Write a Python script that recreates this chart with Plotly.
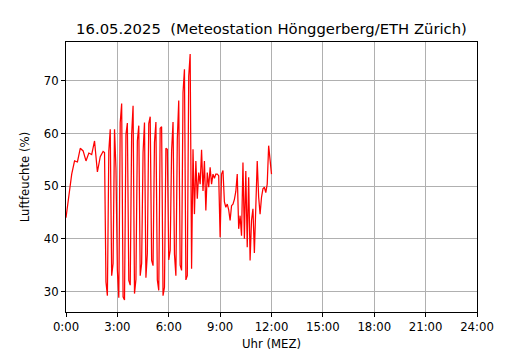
import plotly.graph_objects as go

# Measurement times (MEZ): 10-minute steps until 2:10, 5-minute steps afterwards
times = ["0:00", "0:10", "0:20", "0:30", "0:40", "0:50",
         "1:00", "1:10", "1:20", "1:30", "1:40", "1:50",
         "2:00", "2:10",
         "2:15", "2:20", "2:25", "2:30", "2:35", "2:40", "2:45", "2:50", "2:55",
         "3:00", "3:05", "3:10", "3:15", "3:20", "3:25", "3:30", "3:35", "3:40", "3:45", "3:50", "3:55",
         "4:00", "4:05", "4:10", "4:15", "4:20", "4:25", "4:30", "4:35", "4:40", "4:45", "4:50", "4:55",
         "5:00", "5:05", "5:10", "5:15", "5:20", "5:25", "5:30", "5:35", "5:40", "5:45", "5:50", "5:55",
         "6:00", "6:05", "6:10", "6:15", "6:20", "6:25", "6:30", "6:35", "6:40", "6:45", "6:50", "6:55",
         "7:00", "7:05", "7:10", "7:15", "7:20", "7:25", "7:30", "7:35", "7:40", "7:45", "7:50", "7:55",
         "8:00", "8:05", "8:10", "8:15", "8:20", "8:25", "8:30", "8:35", "8:40", "8:45", "8:50", "8:55",
         "9:00", "9:05", "9:10", "9:15", "9:20", "9:25", "9:30", "9:35", "9:40", "9:45", "9:50", "9:55",
         "10:00", "10:05", "10:10", "10:15", "10:20", "10:25", "10:30", "10:35", "10:40", "10:45", "10:50", "10:55",
         "11:00", "11:05", "11:10", "11:15", "11:20", "11:25", "11:30", "11:35", "11:40", "11:45", "11:50", "11:55",
         "12:00"]

# Relative humidity (%)
humidity = [44.0, 48.0, 52.3, 54.8, 54.6, 57.2,
            56.7, 54.8, 56.3, 56.0, 58.6, 52.7,
            55.6, 56.6,
            56.4, 31.8, 29.2, 56.7, 60.8, 33.0, 35.3, 60.8, 53.4,
            34.0, 28.8, 62.1, 65.7, 29.0, 28.4, 59.8, 62.0, 32.1, 31.2, 59.8, 65.3,
            29.6, 32.3, 58.6, 61.5, 33.0, 35.3, 56.4, 62.1, 32.6, 37.2, 61.9, 63.2,
            35.9, 34.9, 58.3, 62.2, 32.2, 30.2, 61.0, 61.3, 29.2, 30.8, 57.2, 57.0,
            36.0, 37.8, 56.7, 62.2, 37.1, 33.0, 58.9, 66.3, 35.0, 34.0, 67.8, 72.2,
            32.2, 33.0, 70.9, 75.1, 34.3, 57.0, 44.7, 54.8, 47.6, 52.6, 50.4, 56.9,
            49.1, 54.8, 45.4, 52.6, 49.8, 53.6, 50.4, 52.3, 51.5, 52.3, 52.3, 52.0,
            40.3, 52.3, 53.0, 47.0, 46.0, 46.6, 45.5, 43.5, 46.3, 46.6, 47.5, 49.0,
            52.3, 41.9, 44.4, 40.6, 54.5, 40.0, 52.9, 38.4, 51.7, 35.9, 43.5, 45.7,
            37.3, 46.0, 54.8, 47.9, 44.7, 47.9, 49.5, 49.8, 48.8, 50.4, 57.7, 55.0,
            52.3]

x_tick_vals = [0, 3, 6, 9, 12, 15, 18, 21, 24]
x_tick_text = ["0:00", "3:00", "6:00", "9:00", "12:00", "15:00", "18:00", "21:00", "24:00"]
y_tick_vals = [30, 40, 50, 60, 70]

title_text = "16.05.2025\u00a0 (Meteostation Hönggerberg/ETH Zürich)"
x_title = "Uhr (MEZ)"
y_title = "Luftfeuchte (%)"


def to_hours(t):
    h, m = t.split(":")
    return int(h) + int(m) / 60.0


hours = [to_hours(t) for t in times]

fig = go.Figure()
fig.add_trace(go.Scatter(x=hours, y=humidity, mode="lines",
                         line=dict(color="red", width=1.25),
                         hoverinfo="skip", showlegend=False))

font_family = "DejaVu Sans"
axis_common = dict(
    showline=True, linecolor="black", linewidth=1, mirror=True,
    ticks="outside", ticklen=4, tickwidth=1, tickcolor="black",
    showgrid=True, gridcolor="#b0b0b0", gridwidth=1,
    zeroline=False, automargin=False,
    tickfont=dict(family=font_family, size=11.7, color="black"),
)

# page is offset by the default 8px body margin
L, T, PW, PH = 58, 34, 411, 270

fig.update_layout(
    width=530, height=350,
    margin=dict(l=L, r=530 - L - PW, t=T, b=350 - T - PH),
    paper_bgcolor="white", plot_bgcolor="white",
    font=dict(family=font_family, color="black"),
    title=dict(text=title_text, x=(L + PW / 2) / 530, xanchor="center",
               y=1 - 21 / 350, yanchor="middle", yref="container",
               font=dict(family=font_family, size=14.8, color="black")),
    xaxis=dict(range=[0, 24], tickvals=x_tick_vals, ticktext=x_tick_text,
               title=dict(text=x_title, standoff=6,
                          font=dict(family=font_family, size=11.7)),
               **axis_common),
    yaxis=dict(range=[26.1, 77.4], tickvals=y_tick_vals,
               title=dict(text=y_title, standoff=11,
                          font=dict(family=font_family, size=11.7)),
               **axis_common),
)

fig.write_html("out.html")
